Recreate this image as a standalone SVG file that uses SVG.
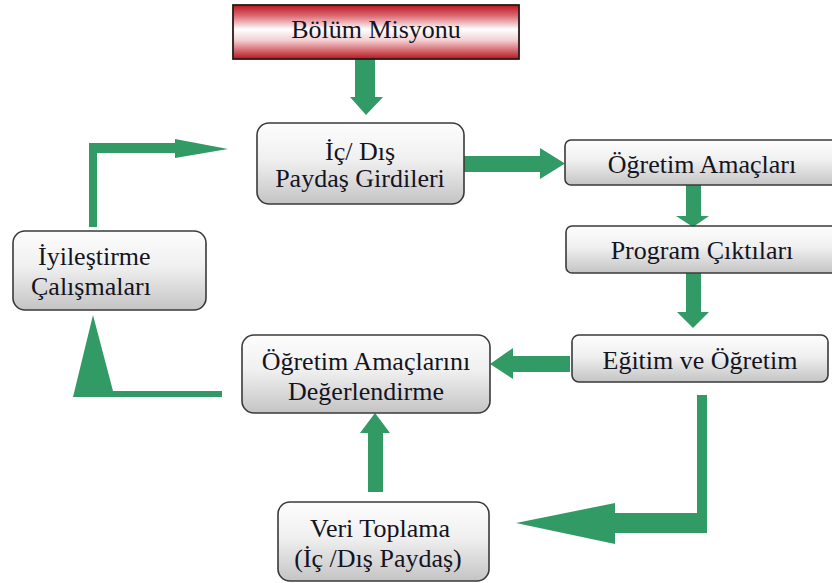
<svg xmlns="http://www.w3.org/2000/svg" width="832" height="583" viewBox="0 0 832 583">
<defs>
<linearGradient id="gray" x1="0" y1="0" x2="0" y2="1">
<stop offset="0" stop-color="#fdfdfd"/>
<stop offset="0.45" stop-color="#f0f0f0"/>
<stop offset="1" stop-color="#c4c4c4"/>
</linearGradient>
<linearGradient id="red" x1="0" y1="0" x2="0" y2="1">
<stop offset="0" stop-color="#b8161f"/>
<stop offset="0.2" stop-color="#dc6a72"/>
<stop offset="0.45" stop-color="#ffffff"/>
<stop offset="0.65" stop-color="#f4d0d2"/>
<stop offset="1" stop-color="#b8161f"/>
</linearGradient>
</defs>
<style>
.box{fill:url(#gray);stroke:#3a3a3a;stroke-width:1.6}
.red{fill:url(#red);stroke:#2a1a1a;stroke-width:1.8}
.t{font-family:"Liberation Serif","Times New Roman",serif;font-size:26px;fill:#14141f}
.c{text-anchor:middle}
.g{fill:#329a64}
</style>
<rect width="832" height="583" fill="#ffffff"/>
<g id="connectors">
<polygon class="g" points="355,59 375,59 375,97 383,97 366,115 350,97 355,97"/>
<polygon class="g" points="464,156 540,156 540,148 565,163.5 540,179 540,172 464,172"/>
<polygon class="g" points="686,185 701,185 701,216 709,216 693,227 676,216 686,216"/>
<polygon class="g" points="686,273 701,273 701,312 709,312 693,328 677,312 686,312"/>
<polygon class="g" points="570,356 513,356 513,348 490,364 513,379 513,372 570,372"/>
<polygon class="g" points="697,395 707,395 707,533 615,533 615,544 516,523 615,503 615,513 697,513"/>
<polygon class="g" points="368,492 383,492 383,433 390,433 375,413 360,433 368,433"/>
<polygon class="g" points="222,391 222,397 73,397 93,315 113,391"/>
<polygon class="g" points="89,227 97,227 97,153 175,153 175,158 228,149 175,139 175,143 89,143"/>
</g>
<g id="n-bolum">
<rect class="red" x="233" y="5" width="286" height="54"/>
<text class="t c" x="376" y="38">Bölüm Misyonu</text>
</g>
<g id="n-icdis">
<rect class="box" x="257" y="123" width="207" height="81" rx="12"/>
<text class="t c" x="360" y="160">İç/ Dış</text>
<text class="t c" x="360" y="187">Paydaş Girdileri</text>
</g>
<g id="n-ogretim-amaclari">
<rect class="box" x="565" y="140" width="290" height="45" rx="6"/>
<text class="t c" x="702" y="173">Öğretim Amaçları</text>
</g>
<g id="n-program">
<rect class="box" x="566" y="226" width="290" height="47" rx="6"/>
<text class="t c" x="702" y="259">Program Çıktıları</text>
</g>
<g id="n-egitim">
<rect class="box" x="572" y="335" width="256" height="47" rx="7"/>
<text class="t c" x="700" y="369">Eğitim ve Öğretim</text>
</g>
<g id="n-degerlendirme">
<rect class="box" x="242" y="335" width="248" height="78" rx="12"/>
<text class="t c" x="366" y="370">Öğretim Amaçlarını</text>
<text class="t c" x="366" y="400">Değerlendirme</text>
</g>
<g id="n-iyilestirme">
<rect class="box" x="13" y="231" width="193" height="79" rx="12"/>
<text class="t" x="38" y="265">İyileştirme</text>
<text class="t" x="31" y="295">Çalışmaları</text>
</g>
<g id="n-veri">
<rect class="box" x="278" y="502" width="211" height="79" rx="12"/>
<text class="t c" x="380" y="537">Veri Toplama</text>
<text class="t c" x="378" y="567">(İç /Dış Paydaş)</text>
</g>
</svg>
